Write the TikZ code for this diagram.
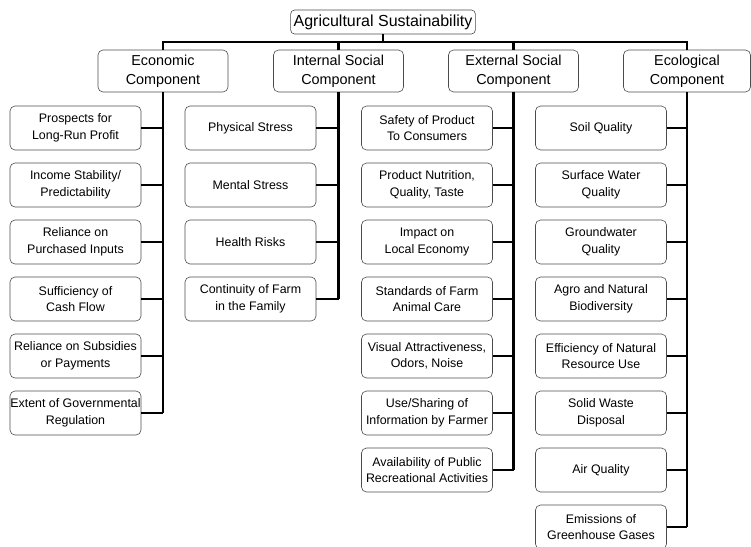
\documentclass[tikz,border=0pt]{standalone}
\usepackage{fontspec}
\setmainfont{Liberation Sans}
\usetikzlibrary{positioning}

\begin{document}
\begin{tikzpicture}[
    x=1pt, y=1pt,
    goal/.style={
        draw=black!70, rounded corners=4pt,
        line width=0.6pt, outer sep=0pt,
        font=\fontsize{16}{19}\selectfont,
        minimum height=24pt,
        inner xsep=3pt, inner ysep=0pt
    },
    comp/.style={
        draw=black!70, rounded corners=5pt,
        line width=0.6pt, outer sep=0pt,
        align=center,
        font=\fontsize{14.4}{19}\selectfont,
        minimum width=130pt,
        minimum height=42pt,
        inner sep=0pt
    },
    item/.style={
        draw=black!70, rounded corners=5pt,
        line width=0.6pt, outer sep=0pt,
        align=center,
        font=\fontsize{12.4}{16.5}\selectfont,
        minimum width=131pt,
        minimum height=44pt,
        inner sep=0pt
    },
    link/.style={line width=2.2pt}
]
\useasboundingbox (0,0) rectangle (751,-546);

% ===== TOP =====
\node[goal] (goal) at (383,-22) {Agricultural Sustainability};
\coordinate (bus) at ([yshift=-8pt]goal.south);

% ===== COMPONENTS =====
\node[comp] (econ) at (163,-71) {Economic\\Component};
\node[comp] (intsoc) at (338.5,-71) {Internal Social\\Component};
\node[comp] (extsoc) at (513.5,-71) {External Social\\Component};
\node[comp, minimum width=127pt] (ecol) at (687,-71) {Ecological\\Component};

% ===== ECONOMIC =====
\node[item] (profit) at (75.5,-128) {Prospects for\\Long-Run Profit};
\node[item, below=13pt of profit] (income) {Income Stability/\\Predictability};
\node[item, below=13pt of income] (inputs) {Reliance on\\Purchased Inputs};
\node[item, below=13pt of inputs] (cash) {Sufficiency of\\Cash Flow};
\node[item, below=13pt of cash] (subsid) {Reliance on Subsidies\\or Payments};
\node[item, below=13pt of subsid] (regul) {Extent of Governmental\\Regulation};

% ===== INTERNAL SOCIAL =====
\node[item] (phys) at (250.5,-128) {Physical Stress};
\node[item, below=13pt of phys] (mental) {Mental Stress};
\node[item, below=13pt of mental] (health) {Health Risks};
\node[item, below=13pt of health] (family) {Continuity of Farm\\in the Family};

% ===== EXTERNAL SOCIAL =====
\node[item] (safety) at (427,-128) {Safety of Product\\To Consumers};
\node[item, below=13pt of safety] (nutri) {Product Nutrition,\\Quality, Taste};
\node[item, below=13pt of nutri] (local) {Impact on\\Local Economy};
\node[item, below=13pt of local] (animal) {Standards of Farm\\Animal Care};
\node[item, below=13pt of animal] (visual) {Visual Attractiveness,\\Odors, Noise};
\node[item, below=13pt of visual] (info) {Use/Sharing of\\Information by Farmer};
\node[item, below=13pt of info] (recr) {Availability of Public\\Recreational Activities};

% ===== ECOLOGICAL =====
\node[item] (soil) at (601,-128) {Soil Quality};
\node[item, below=13pt of soil] (surf) {Surface Water\\Quality};
\node[item, below=13pt of surf] (ground) {Groundwater\\Quality};
\node[item, below=13pt of ground] (biodiv) {Agro and Natural\\Biodiversity};
\node[item, below=13pt of biodiv] (effic) {Efficiency of Natural\\Resource Use};
\node[item, below=13pt of effic] (waste) {Solid Waste\\Disposal};
\node[item, below=13pt of waste] (air) {Air Quality};
\node[item, below=13pt of air] (ghg) {Emissions of\\Greenhouse Gases};

% ===== BUS =====
\draw[link] (goal.south) -- (goal.south |- bus);
\draw[link] (econ.north) -- (econ.north |- bus) -- (ecol.north |- bus) -- (ecol.north);
\draw[link] (intsoc.north) -- (intsoc.north |- bus);
\draw[link] (extsoc.north) -- (extsoc.north |- bus);

% ===== TRUNKS =====
\draw[link] (econ.south) -- (econ.south |- regul.east);
\draw[link] (intsoc.south) -- (intsoc.south |- family.east);
\draw[link] (extsoc.south) -- (extsoc.south |- recr.east);
\draw[link] (ecol.south) -- (ecol.south |- ghg.east);

% ===== BRANCHES =====
\draw[link] (profit.east) -- (profit.east -| econ.south);
\draw[link] (income.east) -- (income.east -| econ.south);
\draw[link] (inputs.east) -- (inputs.east -| econ.south);
\draw[link] (cash.east) -- (cash.east -| econ.south);
\draw[link] (subsid.east) -- (subsid.east -| econ.south);
\draw[link] (regul.east) -- (regul.east -| econ.south);

\draw[link] (phys.east) -- (phys.east -| intsoc.south);
\draw[link] (mental.east) -- (mental.east -| intsoc.south);
\draw[link] (health.east) -- (health.east -| intsoc.south);
\draw[link] (family.east) -- (family.east -| intsoc.south);

\draw[link] (safety.east) -- (safety.east -| extsoc.south);
\draw[link] (nutri.east) -- (nutri.east -| extsoc.south);
\draw[link] (local.east) -- (local.east -| extsoc.south);
\draw[link] (animal.east) -- (animal.east -| extsoc.south);
\draw[link] (visual.east) -- (visual.east -| extsoc.south);
\draw[link] (info.east) -- (info.east -| extsoc.south);
\draw[link] (recr.east) -- (recr.east -| extsoc.south);

\draw[link] (soil.east) -- (soil.east -| ecol.south);
\draw[link] (surf.east) -- (surf.east -| ecol.south);
\draw[link] (ground.east) -- (ground.east -| ecol.south);
\draw[link] (biodiv.east) -- (biodiv.east -| ecol.south);
\draw[link] (effic.east) -- (effic.east -| ecol.south);
\draw[link] (waste.east) -- (waste.east -| ecol.south);
\draw[link] (air.east) -- (air.east -| ecol.south);
\draw[link] (ghg.east) -- (ghg.east -| ecol.south);

\end{tikzpicture}
\end{document}
